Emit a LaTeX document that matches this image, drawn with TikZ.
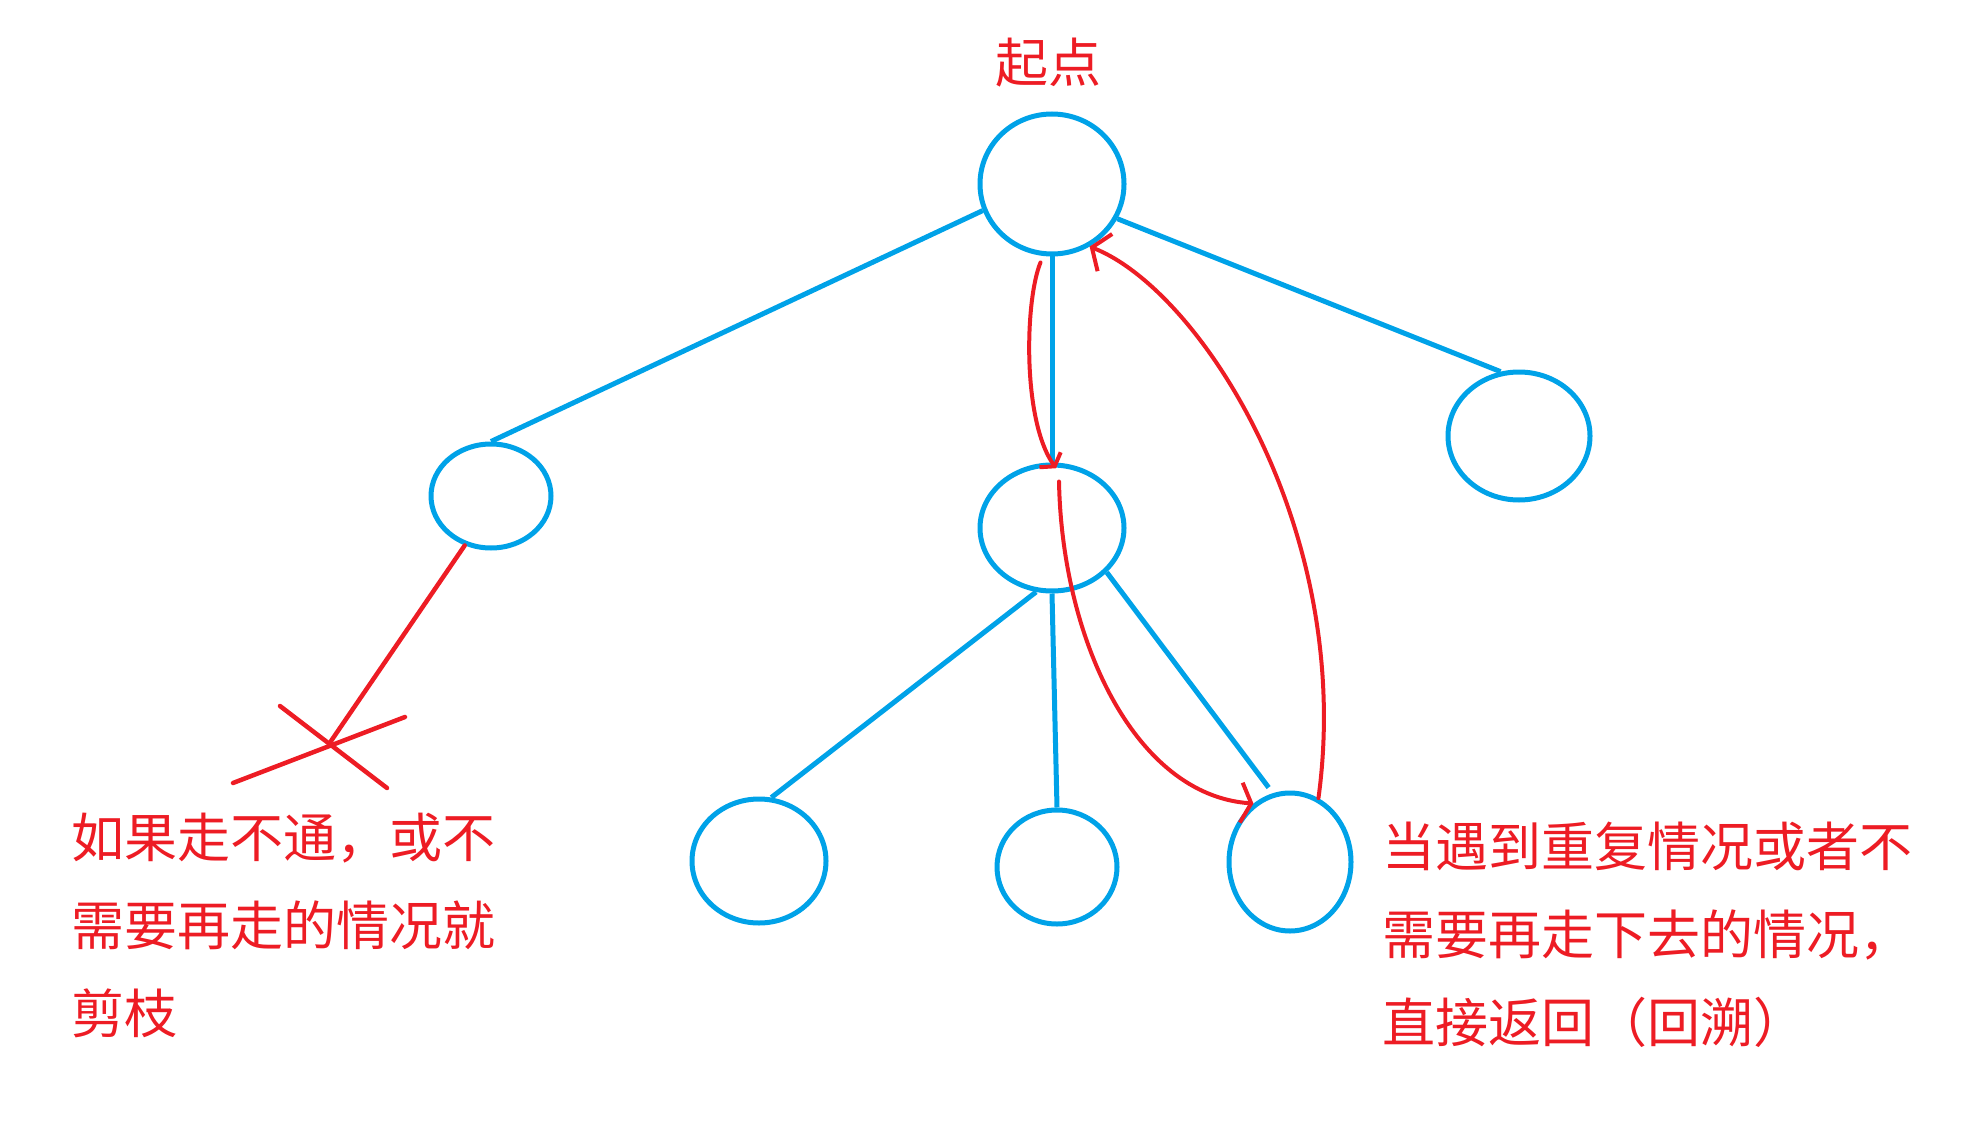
\documentclass[tikz,border=0pt]{standalone}
\usepackage{fontspec}
\usepackage{tikz}
\usetikzlibrary{shapes.geometric,arrows.meta}
\newfontfamily\cjk{Noto Sans CJK SC}
\definecolor{treeblue}{RGB}{0,162,232}
\definecolor{markred}{RGB}{237,28,36}

\begin{document}
\begin{tikzpicture}[x=1pt,y=-1pt,
      vertex/.style={ellipse,draw=treeblue,line width=5pt,inner sep=0pt},
      branch/.style={treeblue,line width=5pt},
      prune/.style={markred,line width=4.5pt,line cap=round},
      trace/.style={markred,line width=4pt,line cap=round},
      note/.style={markred,font=\cjk\fontsize{53}{88}\selectfont,align=left,inner sep=0pt},
      ]
      \useasboundingbox (0,0) rectangle (1968,1134);
      \node[vertex,minimum width=144pt,minimum height=140pt] (root)  at (1052,184) {};
      \node[vertex,minimum width=120pt,minimum height=104pt] (left)  at (491,496) {};
      \node[vertex,minimum width=144pt,minimum height=126pt] (mid)   at (1052,528) {};
      \node[vertex,minimum width=142pt,minimum height=128pt] (right) at (1519,436) {};
      \node[vertex,minimum width=134pt,minimum height=124pt] (bl)    at (759,861) {};
      \node[vertex,minimum width=120pt,minimum height=114pt] (bm)    at (1057,867) {};
      \node[vertex,minimum width=122pt,minimum height=138pt] (br)    at (1290,862) {};
      \node[note,anchor=center] (start) at (1048,63) {起点};
      \node[note,anchor=north west] (cutnote) at (71,813) {如果走不通，或不\\需要再走的情况就\\剪枝};
      \node[note,anchor=north west] (backnote) at (1382,822) {当遇到重复情况或者不\\需要再走下去的情况，\\直接返回（回溯）};
      \coordinate (cut) at (329,744);

      \draw[branch] (root.201) -- (left.north);
      \draw[branch] (root.south) -- (mid.north);
      \draw[branch] (root.332) -- (right.106);
      \draw[branch] (mid.256) -- (bl.79);
      \draw[branch] (mid.south) -- (bm.north);
      \draw[branch,shorten >=7pt] (mid.321) -- (br.104);

      \draw[prune] (left.242) -- (cut);
      \draw[prune] (cut) ++(-49,-38) -- ++(107,82);
      \draw[prune] (cut) ++(-96,39) -- ++(172,-66);

      \draw[trace,shorten <=7pt,shorten >=-7pt,-{Straight Barb[length=8pt,width=26pt]}]
        (root.263) .. controls (1025,300) and (1022,420) .. (mid.north);
      \draw[trace,-{Straight Barb[length=10pt,width=40pt]}]
        ([xshift=7pt,yshift=-19pt]mid.north) .. controls (1062,640) and (1135,795) .. (br.122);
      \draw[trace,-{Straight Barb[length=14pt,width=40pt]}]
        (br.66) .. controls (1355,530) and (1200,290) .. (root.301);
    \end{tikzpicture}
\end{document}
